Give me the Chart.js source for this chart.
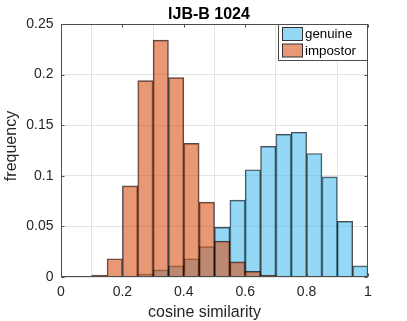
<!DOCTYPE html>
<html>
<head>
<meta charset="utf-8">
<script src="https://cdn.jsdelivr.net/npm/chart.js@4.4.1/dist/chart.umd.min.js"></script>
<style>
html, body { margin: 0; padding: 0; background: #fff; }
#cc0 { width: 407px; height: 321px; }
</style>
</head>
<body>
<div id="cc0"><canvas id="chart0" width="407" height="321"></canvas></div>
<script>
// histogram bins, width 0.05 over [0, 1]
var binCenters = [0.025, 0.075, 0.125, 0.175, 0.225, 0.275, 0.325, 0.375, 0.425, 0.475,
                  0.525, 0.575, 0.625, 0.675, 0.725, 0.775, 0.825, 0.875, 0.925, 0.975];
var genuine  = [0, 0, 0, 0, 0.001, 0.003, 0.007, 0.011, 0.018, 0.030,
                0.049, 0.076, 0.106, 0.129, 0.141, 0.143, 0.122, 0.099, 0.055, 0.011];
var impostor = [0, 0, 0.002, 0.018, 0.090, 0.194, 0.234, 0.197, 0.132, 0.074,
                0.0355, 0.015, 0.0056, 0.002, 0.001, 0, 0, 0, 0, 0];
var seriesNames = ['genuine', 'impostor'];
var xTickValues = [0, 0.2, 0.4, 0.6, 0.8, 1];
var yTickValues = [0, 0.05, 0.1, 0.15, 0.2, 0.25];
var titleText = 'IJB-B 1024';
var xLabel = 'cosine similarity';
var yLabel = 'frequency';

var FONT = "'Liberation Sans', Arial, Helvetica, sans-serif";
var TXT = '#262626';

function toPoints(vals) {
    var pts = [];
    for (var i = 0; i < binCenters.length; i++) { pts.push({ x: binCenters[i], y: vals[i] }); }
    return pts;
}
function fmtTick(v) { return String(Math.round(v * 100) / 100); }

// axes box, inward ticks, legend and labels drawn MATLAB style
var boxPlugin = {
    id: 'matlabBox',
    afterDatasetsDraw: function (chart) {
        var ctx = chart.ctx, a = chart.chartArea;
        var xs = chart.scales.x, ys = chart.scales.y;
        var l = Math.round(a.left) + 0.5, r = Math.round(a.right) - 0.5;
        var t = Math.round(a.top) + 0.5, b = Math.round(a.bottom) - 0.5;
        ctx.save();
        ctx.strokeStyle = '#4d4d4d';
        ctx.lineWidth = 1;
        ctx.strokeRect(l, t, r - l, b - t);
        ctx.beginPath();
        xTickValues.forEach(function (v) {
            var px = Math.round(xs.getPixelForValue(v)) + 0.5;
            ctx.moveTo(px, b); ctx.lineTo(px, b - 3);
            ctx.moveTo(px, t); ctx.lineTo(px, t + 3);
        });
        yTickValues.forEach(function (v) {
            var py = Math.round(ys.getPixelForValue(v)) + 0.5;
            ctx.moveTo(l, py); ctx.lineTo(l + 3, py);
            ctx.moveTo(r, py); ctx.lineTo(r - 3, py);
        });
        ctx.stroke();

        // legend
        var lx = 278.5, ly = 24.5, lw = 89, lh = 36;
        ctx.fillStyle = '#fff';
        ctx.fillRect(lx, ly, lw, lh);
        ctx.strokeStyle = '#4d4d4d';
        ctx.strokeRect(lx, ly, lw, lh);
        ctx.font = '13.3px ' + FONT;
        ctx.textBaseline = 'middle';
        ctx.textAlign = 'left';
        chart.data.datasets.forEach(function (ds, i) {
            var sy = 27.5 + i * 16.5;
            ctx.fillStyle = ds.legendColor;
            ctx.fillRect(282.5, sy, 20, 13);
            ctx.strokeStyle = '#333';
            ctx.strokeRect(282.5, sy, 20, 13);
            ctx.fillStyle = '#000';
            ctx.fillText(ds.label, 305, sy + 7);
        });

        // title and axis labels
        ctx.textAlign = 'center';
        ctx.textBaseline = 'alphabetic';
        ctx.fillStyle = '#000';
        ctx.font = 'bold 16px ' + FONT;
        ctx.fillText(titleText, 209, 18.5);
        ctx.fillStyle = TXT;
        ctx.font = '16px ' + FONT;
        ctx.fillText(xLabel, 204.5, 317);
        ctx.save();
        ctx.translate(15.5, 146);
        ctx.rotate(-Math.PI / 2);
        ctx.fillText(yLabel, 0, 0);
        ctx.restore();
        ctx.restore();
    }
};

var config = {
    type: 'bar',
    data: {
        datasets: [{
            label: seriesNames[0],
            data: toPoints(genuine),
            backgroundColor: 'rgba(77, 190, 238, 0.6)',
            legendColor: '#94d8f5',
            borderColor: 'rgba(0, 0, 0, 0.7)',
            borderWidth: 1,
            order: 1
        }, {
            label: seriesNames[1],
            data: toPoints(impostor),
            backgroundColor: 'rgba(217, 83, 25, 0.6)',
            legendColor: '#e89875',
            borderColor: 'rgba(0, 0, 0, 0.7)',
            borderWidth: 1,
            order: 0
        }]
    },
    options: {
        responsive: false,
        animation: false,
        datasets: { bar: { grouped: false, barPercentage: 1, categoryPercentage: 1 } },
        layout: { padding: { left: 0, right: 39, top: 24, bottom: 0 } },
        plugins: {
            legend: { display: false },
            tooltip: { enabled: false },
            title: { display: false }
        },
        scales: {
            x: {
                type: 'linear',
                min: 0, max: 1,
                offset: false,
                ticks: { stepSize: 0.2, color: TXT, padding: 7, maxRotation: 0,
                         font: { family: FONT, size: 14 }, callback: fmtTick },
                grid: { color: '#e3e3e3', drawTicks: false },
                border: { display: false },
                afterFit: function (s) { s.height = 44; }
            },
            y: {
                min: 0, max: 0.25,
                ticks: { stepSize: 0.05, color: TXT, padding: 7.5,
                         font: { family: FONT, size: 14 }, callback: fmtTick },
                grid: { color: '#e3e3e3', drawTicks: false },
                border: { display: false },
                afterFit: function (s) { s.width = 61; }
            }
        }
    },
    plugins: [boxPlugin]
};

var chart = new Chart(document.getElementById('chart0'), config);
</script>
</body>
</html>
